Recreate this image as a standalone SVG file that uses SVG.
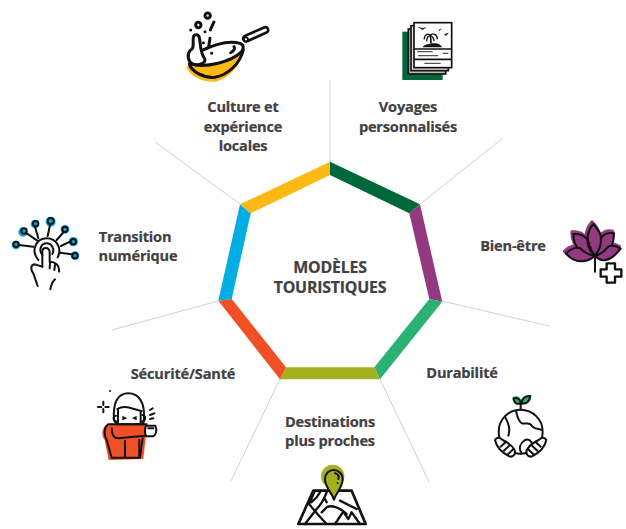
<svg xmlns="http://www.w3.org/2000/svg" width="626" height="529" viewBox="0 0 626 529">
<style>
text{font-family:"Open Sans","Noto Sans","Liberation Sans",sans-serif;font-weight:700;font-size:14.6px;fill:#414042;stroke:#414042;stroke-width:.2;text-anchor:middle;letter-spacing:-.2px}
.t{font-size:15.9px}
.s{stroke:#d0d0d0;stroke-width:1;fill:none}
.k{fill:none;stroke:#111;stroke-width:9;stroke-linecap:round;stroke-linejoin:round}
.w{fill:#fff;stroke:#111;stroke-width:9;stroke-linecap:round;stroke-linejoin:round}
.n{fill:none;stroke:#111;stroke-width:6;stroke-linecap:round;stroke-linejoin:round}
.h{fill:#fff;stroke:#111;stroke-width:6;stroke-linecap:round;stroke-linejoin:round}
.p{fill:#92397f;stroke:#111;stroke-width:6;stroke-linejoin:round}
</style>
<defs>
<g id="petals">
<path d="M130 42C152 66 168 95 135 137C106 100 106 70 130 42Z"/>
<path d="M70 72C92 70 104 78 112 88C112 105 120 125 135 137C102 137 70 118 70 72Z"/>
<path d="M192 70C172 66 158 76 152 86C155 105 145 125 135 137C168 137 192 115 192 70Z"/>
<path d="M48 130C66 113 84 110 92 116C105 130 120 135 135 137C112 158 76 164 48 130Z"/>
<path d="M212 116C194 104 178 106 172 112C160 128 145 135 135 137C152 158 180 158 212 116Z"/>
</g>
</defs>
<rect width="626" height="529" fill="#fff"/>
<g id="connectors">
<path class="s" d="M330 162V80M420 204L503 138M442 301L549 326M380 379L429 482M280 379L231 481M218 301L112 330M240 204L155 142"/>
</g>
<g id="hub">
<path fill="#006838" d="M330 161.7L420 204.3L409.3 213.3L330 175Z"/>
<path fill="#92397f" d="M420 204.3L442.3 301.7L429.3 299L409.3 213.3Z"/>
<path fill="#2bb273" d="M442.3 301.7L380 379.3L374.3 367.3L429.3 299Z"/>
<path fill="#a4b11f" d="M380 379.3L280 379.3L286 367.3L374.3 367.3Z"/>
<path fill="#f15025" d="M280 379.3L218.3 300.7L231.7 299L286 367.3Z"/>
<path fill="#00aee4" d="M218.3 300.7L240 204.3L250.7 213.3L231.7 299Z"/>
<path fill="#fdb913" d="M240 204.3L330 161.7L330 175L250.7 213.3Z"/>
<text class="t" x="330" y="273">MODÈLES</text>
<text class="t" x="330" y="293">TOURISTIQUES</text>
</g>
<g id="culture">
<text x="243" y="112">Culture et</text><text x="243" y="132">expérience</text><text x="243" y="151">locales</text>
<g transform="translate(160 0) scale(.3333)">
<path fill="#fdb913" d="M78 198C90 232 130 247 165 245C210 235 242 195 252 150C200 185 130 205 78 198Z"/>
<path class="k" d="M88 192C95 215 130 235 165 232C205 225 240 190 250 150"/>
<path class="k" d="M125 152C170 130 210 122 240 130C252 134 252 145 245 155C215 185 140 205 88 192"/>
<path d="M258 116L316 90" stroke="#111" stroke-width="25" stroke-linecap="round"/>
<path d="M264 113L316 90" stroke="#fff" stroke-width="9" stroke-linecap="round"/>
<circle cx="258" cy="118" r="6" fill="#fff" stroke="#111" stroke-width="5"/>
<path class="w" d="M100 112C98 132 104 145 90 152C80 165 84 185 98 192C118 198 140 188 134 176C120 160 122 130 118 112C115 102 102 102 100 112Z"/>
<path class="k" d="M212 158C222 152 226 146 222 140"/>
<circle class="k" cx="143" cy="47" r="8"/><circle class="k" cx="115" cy="75" r="8"/>
<path class="k" d="M162 66L151 90M150 115L146 140M92 90h.1M135 95h.1M130 128h.1M155 160h.1"/>
</g>
</g>
<g id="voyages">
<text x="408" y="112">Voyages</text><text x="408" y="132">personnalisés</text>
<g transform="translate(380 10) scale(.3333)">
<rect x="67" y="65" width="121" height="145" fill="#006838"/>
<rect x="85" y="57" width="112" height="135" fill="#bbb" stroke="#111" stroke-width="5"/>
<rect x="93" y="47" width="112" height="135" fill="#ddd" stroke="#111" stroke-width="5"/>
<rect x="102" y="38" width="113" height="135" fill="#fff" stroke="#111" stroke-width="5"/>
<path d="M102 117H215M102 148H215" stroke="#111" stroke-width="5"/>
<path d="M112 125H158M188 130H205M114 137H175M133 160H182" stroke="#555" stroke-width="4"/>
<path d="M128 112C130 105 145 100 165 100C178 100 185 108 186 112Z" fill="#111"/>
<path d="M153 100C154 90 152 82 150 74" stroke="#111" stroke-width="5" fill="none"/>
<path d="M150 76C142 68 134 74 132 88M150 76C158 68 172 72 172 88M150 76C144 78 140 82 140 94M150 76C156 78 162 84 162 94" stroke="#111" stroke-width="4" fill="none"/>
<path d="M112 50L128 54L140 52L128 60ZM176 60L186 55L178 64ZM192 72L207 68L198 78Z" fill="#222"/>
</g>
</g>
<g id="bienetre">
<text x="513" y="251">Bien-être</text>
<g transform="translate(550 210) scale(.3333)">
<use href="#petals" fill="#92397f" stroke="#92397f" stroke-width="10" stroke-linejoin="round" transform="translate(-4 -6)"/>
<use href="#petals" class="p"/>
<path d="M135 137V185" class="n"/>
<path d="M118 100h.1M122 112h.1" class="n"/>
<path fill="#fff" stroke="#111" stroke-width="7" stroke-linejoin="round" d="M170 160H195V178H214V200H195V218H170V200H152V178H170Z"/>
</g>
</g>
<g id="durabilite">
<text x="462" y="378">Durabilité</text>
<g transform="translate(480 385) scale(.3333)">
<path fill="#2bb273" d="M96 38C110 28 125 35 125 55C108 66 100 55 96 38ZM122 50C125 35 135 28 155 30C155 50 140 60 122 58Z"/>
<path class="n" d="M101 40C112 36 122 45 122 55C110 60 102 52 101 40ZM124 52C128 40 138 33 150 33C150 48 140 58 124 55ZM122 55V72"/>
<circle cx="122" cy="140" r="66" fill="#fff" stroke="#111" stroke-width="6"/>
<path class="n" d="M108 78C112 90 112 105 125 115C140 118 150 110 155 122C160 130 170 130 185 135M75 95C85 115 92 130 85 152M125 205C115 190 120 175 135 165C145 160 150 165 155 172"/>
<path class="h" d="M45 165C50 155 60 158 68 165C82 172 95 180 102 192C110 205 100 218 88 214C70 205 50 190 45 165Z"/>
<path class="h" d="M199 165C194 155 184 158 176 165C162 172 149 180 142 192C134 205 144 218 156 214C174 205 194 190 199 165Z"/>
<path class="n" d="M62 185L78 170M72 197L90 180M84 208L100 192M182 185L166 170M172 197L154 180M160 208L144 192"/>
</g>
</g>
<g id="destinations">
<text x="330" y="427">Destinations</text><text x="330" y="446">plus proches</text>
<g transform="translate(285 459) scale(.3333)">
<path d="M85 95H200L242 195H40Z" fill="#fff" stroke="#111" stroke-width="8" stroke-linejoin="round"/>
<path class="k" style="stroke-width:7" d="M88 100L72 135C85 150 100 170 125 195M105 100C95 120 85 125 78 130M125 100C115 125 110 135 95 150L60 195M165 125L215 150M110 160L125 145C140 135 170 150 185 165M120 120L125 130M150 195L175 158L190 180L200 160L225 195"/>
<circle cx="143" cy="52" r="35" fill="#a4b11f"/>
<path class="n" style="fill:#a4b11f" d="M147 122C140 100 120 85 120 60C120 44 132 33 146 33C160 33 173 44 173 60C173 85 154 100 147 122Z"/>
<path class="n" d="M150 43C160 45 163 52 160 60"/>
<circle cx="158" cy="72" r="3" fill="#111"/>
</g>
</g>
<g id="securite">
<text x="183" y="379">Sécurité/Santé</text>
<g transform="translate(90 385) scale(.3333)">
<path fill="#f15025" d="M55 115C35 125 32 150 44 165L56 225L160 222L168 150V118H80Z"/>
<circle cx="60" cy="18" r="3" fill="#111"/>
<path class="n" d="M40 50V60M40 72V82M24 66H34M46 66H56"/>
<path class="h" d="M72 105C68 50 85 25 115 25C145 25 165 50 162 100L160 118H80Z"/>
<path class="n" d="M82 72C105 58 125 72 155 78M84 72V115M152 78V115M78 92C68 92 68 108 80 110M158 90C168 92 168 108 155 110"/>
<path d="M97 92L112 100L97 106ZM140 92L126 100L140 106Z" fill="#111"/>
<path class="n" d="M55 118C40 130 42 150 50 165L65 218H150L158 160M65 130C65 150 70 160 85 160L165 152M60 118H170"/>
<path class="h" d="M168 122H196C202 135 198 150 190 154H168C165 145 165 130 168 122Z"/>
<path class="n" d="M105 215V168M148 165V215M180 75L188 70M180 90L193 85M180 102L190 100M175 130H190"/>
</g>
</g>
<g id="transition">
<text x="135" y="242">Transition</text><text x="138" y="261">numérique</text>
<g transform="translate(5 210) scale(.3333)">
<g fill="#00aee4">
<circle cx="33" cy="105" r="13"/><circle cx="54" cy="66" r="14"/><circle cx="90" cy="42" r="13"/><circle cx="137" cy="35" r="15"/><circle cx="180" cy="58" r="13"/><circle cx="205" cy="95" r="14"/><circle cx="210" cy="137" r="13"/>
</g>
<g class="n">
<path d="M42 105L85 110M65 70L97 92M90 50L100 85M135 45L128 78M176 66L155 90M195 95L168 108M200 133L165 128"/>
<circle cx="33" cy="103" r="8"/><circle cx="57" cy="63" r="8"/><circle cx="92" cy="41" r="8"/><circle cx="137" cy="33" r="9"/><circle cx="180" cy="58" r="8"/><circle cx="205" cy="95" r="8"/><circle cx="210" cy="137" r="8"/>
<path d="M100 150C75 120 95 85 125 85C155 85 172 115 158 142M112 135C100 120 108 100 125 100C140 100 150 118 142 132"/>
<path d="M112 170V125C112 110 132 110 134 125V155C150 155 165 165 162 185M150 165L148 180M135 160L134 175"/>
<path d="M112 170L88 163C78 165 75 178 85 190L98 228M150 208C140 215 138 230 136 238"/>
</g>
</g>
</g>
</svg>
